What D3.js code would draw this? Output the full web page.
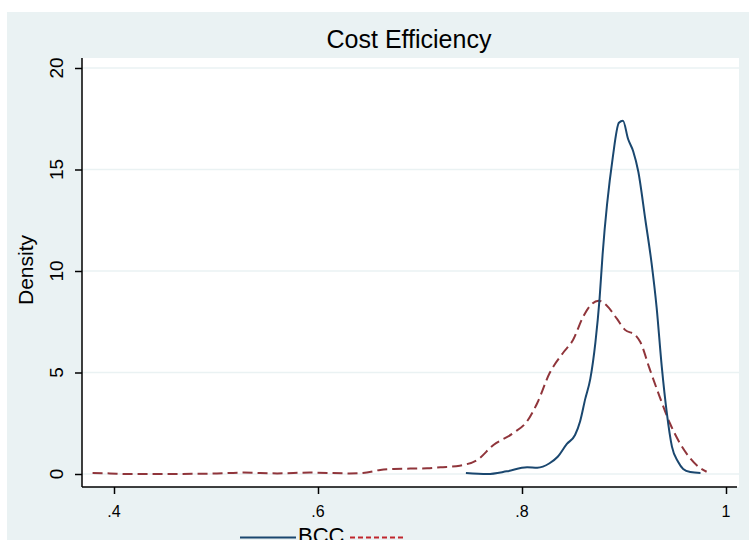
<!DOCTYPE html>
<html>
<head>
<meta charset="utf-8">
<script src="https://cdn.jsdelivr.net/npm/d3@7"></script>
<style>
  body { margin: 0; background: #fff; }
  svg { display: block; font-family: "Liberation Sans", Arial, sans-serif; }
</style>
</head>
<body>
<svg id="chart" width="749" height="540"></svg>
<script>
// tick labels
const xTicks = [0.4, 0.6, 0.8, 1];
const xTickLabels = [".4", ".6", ".8", "1"];
const yTicks = [0, 5, 10, 15, 20];

// BCC kernel density (solid blue)
const bccX = [0.745, 0.766, 0.785, 0.805, 0.815, 0.827, 0.835, 0.844, 0.852, 0.857,
  0.862, 0.867, 0.872, 0.876, 0.879, 0.889, 0.895, 0.899, 0.904, 0.909,
  0.914, 0.921, 0.927, 0.932, 0.937, 0.942, 0.947, 0.953, 0.958, 0.965, 0.975];
const bccY = [0.05, 0.0, 0.13, 0.33, 0.31, 0.53, 0.85, 1.48, 1.92, 2.6,
  3.7, 4.7, 6.5, 8.6, 10.8, 15.6, 17.3, 17.4, 16.5, 15.9,
  14.9, 12.5, 10.4, 8.2, 5.3, 3.0, 1.35, 0.6, 0.25, 0.1, 0.05];

// second series (dashed red)
const ccrX = [0.379, 0.396, 0.413, 0.445, 0.494, 0.527, 0.560, 0.592, 0.631, 0.644,
  0.661, 0.674, 0.707, 0.720, 0.739, 0.742, 0.756, 0.772, 0.791, 0.805,
  0.815, 0.827, 0.840, 0.850, 0.860, 0.867, 0.875, 0.883, 0.893, 0.901,
  0.911, 0.916, 0.925, 0.935, 0.945, 0.955, 0.965, 0.975, 0.981];
const ccrY = [0.05, 0.03, 0.0, 0.0, 0.02, 0.07, 0.03, 0.07, 0.03, 0.05,
  0.2, 0.25, 0.28, 0.33, 0.41, 0.44, 0.69, 1.43, 2.0, 2.6,
  3.5, 4.96, 5.95, 6.6, 7.75, 8.3, 8.54, 8.3, 7.65, 7.1,
  6.85, 6.5, 5.2, 3.8, 2.5, 1.5, 0.77, 0.28, 0.11];

const svg = d3.select("#chart");

// graph region background
svg.append("rect")
  .attr("x", 7).attr("y", 12)
  .attr("width", 742).attr("height", 528)
  .attr("fill", "#eaf2f3");

const x = d3.scaleLinear().domain([0.4, 1]).range([114, 726]);
const y = d3.scaleLinear().domain([0, 20]).range([474, 68]);

// plot region
const plotLeft = 82, plotRight = 739, plotTop = 58, plotBottom = 487;
svg.append("rect")
  .attr("x", plotLeft).attr("y", plotTop)
  .attr("width", plotRight - plotLeft).attr("height", plotBottom - plotTop)
  .attr("fill", "#fff");

// grid lines
svg.selectAll(".grid")
  .data(yTicks)
  .enter().append("line")
  .attr("class", "grid")
  .attr("x1", plotLeft).attr("x2", plotRight)
  .attr("y1", d => y(d)).attr("y2", d => y(d))
  .attr("stroke", "#eaf2f3")
  .attr("stroke-width", 1.5);

// curves
const line = d3.line()
  .x(d => x(d[0]))
  .y(d => y(d[1]))
  .curve(d3.curveMonotoneX);

svg.append("path")
  .datum(ccrX.map((v, i) => [v, ccrY[i]]))
  .attr("d", line)
  .attr("fill", "none")
  .attr("stroke", "#90353b")
  .attr("stroke-width", 2)
  .attr("stroke-dasharray", "10,5");

svg.append("path")
  .datum(bccX.map((v, i) => [v, bccY[i]]))
  .attr("d", line)
  .attr("fill", "none")
  .attr("stroke", "#1a476f")
  .attr("stroke-width", 2);

// y axis
svg.append("g")
  .attr("transform", "translate(" + plotLeft + ",0)")
  .call(d3.axisLeft(y).tickValues(yTicks).tickSize(7).tickFormat(""))
  .call(g => g.select(".domain").attr("d", "M0," + plotTop + "V" + plotBottom).attr("stroke-width", 1.5))
  .call(g => g.selectAll(".tick line").attr("stroke-width", 1.5));

svg.selectAll(".ylab")
  .data(yTicks)
  .enter().append("text")
  .attr("class", "ylab")
  .attr("transform", d => "translate(63," + y(d) + ") rotate(-90)")
  .attr("text-anchor", "middle")
  .style("font-size", "19px")
  .style("fill", "#000")
  .text(d => d);

// x axis
svg.append("g")
  .attr("transform", "translate(0," + plotBottom + ")")
  .call(d3.axisBottom(x).tickValues(xTicks).tickSize(7).tickFormat(""))
  .call(g => g.select(".domain").attr("d", "M" + plotLeft + ",0H" + (plotRight - 2)).attr("stroke-width", 1.5))
  .call(g => g.selectAll(".tick line").attr("stroke-width", 1.5));

svg.selectAll(".xlab")
  .data(xTicks)
  .enter().append("text")
  .attr("class", "xlab")
  .attr("x", d => x(d))
  .attr("y", 517)
  .attr("text-anchor", "middle")
  .style("font-size", "16px")
  .style("fill", "#000")
  .text((d, i) => xTickLabels[i]);

// axis title
svg.append("text")
  .attr("transform", "translate(33,270) rotate(-90)")
  .attr("text-anchor", "middle")
  .style("font-size", "21px")
  .text("Density");

// title
svg.append("text")
  .attr("x", 409).attr("y", 48)
  .attr("text-anchor", "middle")
  .style("font-size", "25px")
  .text("Cost Efficiency");

// legend (partly cut off at bottom, as in the source)
svg.append("line")
  .attr("x1", 240).attr("x2", 296)
  .attr("y1", 537.5).attr("y2", 537.5)
  .attr("stroke", "#1a476f").attr("stroke-width", 2);
svg.append("text")
  .attr("x", 298).attr("y", 543)
  .style("font-size", "22px")
  .text("BCC");
svg.append("line")
  .attr("x1", 350).attr("x2", 406)
  .attr("y1", 537.5).attr("y2", 537.5)
  .attr("stroke", "#c0262d").attr("stroke-width", 2)
  .attr("stroke-dasharray", "5,3");
</script>
</body>
</html>
